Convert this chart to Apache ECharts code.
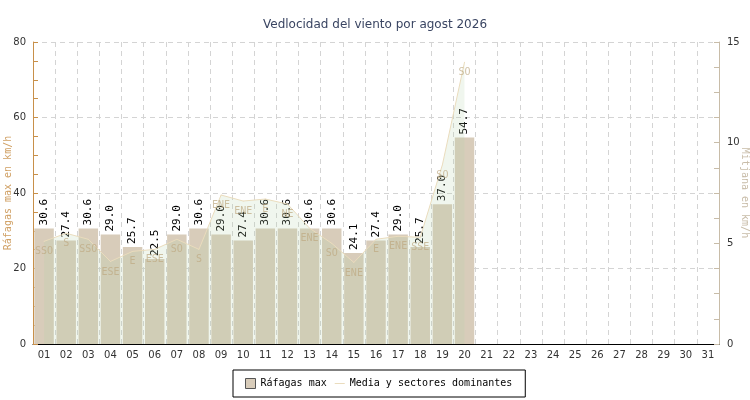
<!DOCTYPE html>
<html>
<head>
<meta charset="utf-8">
<script src="https://cdn.jsdelivr.net/npm/echarts@6/dist/echarts.min.js"></script>
<style>
  html, body { margin: 0; padding: 0; background: #fff; }
  #chart { width: 750px; height: 400px; }
</style>
</head>
<body>
<div id="chart"></div>
<script>
const days = ['01','02','03','04','05','06','07','08','09','10','11','12','13','14','15','16',
              '17','18','19','20','21','22','23','24','25','26','27','28','29','30','31'];
const gusts = [30.6, 27.4, 30.6, 29.0, 25.7, 22.5, 29.0, 30.6, 29.0, 27.4, 30.6, 30.6, 30.6, 30.6,
               24.1, 27.4, 29.0, 25.7, 37.0, 54.7];
const mean = [5.1, 5.5, 5.2, 4.1, 4.6, 4.7, 5.2, 4.7, 7.4, 7.1, 7.2, 6.95, 5.75, 5.0,
              4.05, 5.2, 5.35, 5.3, 8.9, 14.0];
const sectors = ['SSO','S','SSO','ESE','E','ESE','SO','S','ENE','ENE','E','NE','ENE','SO',
                 'ENE','E','ENE','SSE','SO','SO'];

const mono = 'DejaVu Sans Mono';
const chart = echarts.init(document.getElementById('chart'));

const option = {
    animation: false,
    title: {
        text: 'Vedlocidad del viento por agost 2026',
        left: 'center',
        top: 14,
        textStyle: {color: '#3a4562', fontSize: 12, fontWeight: 'normal', fontFamily: 'DejaVu Sans'}
    },
    legend: {
        bottom: 3,
        left: 233,
        borderColor: '#000',
        borderWidth: 1,
        padding: [8, 13, 8, 12],
        itemGap: 8,
        itemWidth: 10,
        itemHeight: 10,
        textStyle: {fontFamily: mono, fontSize: 10, color: '#000'},
        data: [
            {name: 'Ráfagas max', icon: 'rect', itemStyle: {color: '#d8ccba', borderColor: '#555', borderWidth: 1}},
            {name: 'Media y sectores dominantes', icon: 'path://M0,5 L10,5 L10,6 L0,6 Z',
             itemStyle: {color: '#eadcbd'}}
        ]
    },
    grid: {left: 33, right: 31, top: 42, bottom: 56, outerBoundsMode: 'none', containLabel: false},
    xAxis: {
        type: 'category',
        data: days,
        axisLine: {lineStyle: {color: '#000'}},
        axisTick: {inside: true, length: 5, lineStyle: {color: '#000'}},
        axisLabel: {color: '#333', fontSize: 10, fontFamily: 'DejaVu Sans', margin: 6},
        splitLine: {show: true, lineStyle: {color: '#d4d4d4', type: [5, 4]}}
    },
    yAxis: [
        {
            type: 'value',
            min: 0, max: 80, interval: 20,
            name: 'Ráfagas max en km/h',
            nameLocation: 'middle',
            nameGap: 20,
            nameMoveOverlap: false,
            nameTextStyle: {color: '#d0a064', fontFamily: mono, fontSize: 10},
            axisLine: {show: true, lineStyle: {color: '#c8904a'}},
            axisTick: {show: true, inside: true, length: 5, lineStyle: {color: '#c8904a'}},
            minorTick: {show: true, splitNumber: 4, length: 5, lineStyle: {color: '#c8904a'}},
            axisLabel: {color: '#333', fontSize: 10, fontFamily: 'DejaVu Sans', margin: 7},
            splitLine: {show: true, lineStyle: {color: '#d4d4d4', type: [5, 4]}}
        },
        {
            type: 'value',
            min: 0, max: 15, interval: 5,
            name: 'Mitjana en km/h',
            nameLocation: 'middle',
            nameGap: 21,
            nameRotate: -90,
            nameMoveOverlap: false,
            nameTextStyle: {color: '#c8bca8', fontFamily: mono, fontSize: 10},
            axisLine: {show: true, lineStyle: {color: '#c8bca8'}},
            axisTick: {show: true, inside: true, length: 5, lineStyle: {color: '#c8bca8'}},
            minorTick: {show: true, splitNumber: 4, length: 5, lineStyle: {color: '#c8bca8'}},
            axisLabel: {color: '#333', fontSize: 10, fontFamily: 'DejaVu Sans', margin: 8},
            splitLine: {show: false}
        }
    ],
    series: [
        {
            name: 'Ráfagas max',
            type: 'bar',
            yAxisIndex: 0,
            data: gusts,
            barCategoryGap: '12%',
            itemStyle: {color: '#d8ccba'},
            label: {
                show: true,
                position: 'top',
                rotate: 90,
                align: 'left',
                verticalAlign: 'middle',
                distance: 3,
                color: '#000',
                fontFamily: mono,
                fontSize: 11,
                formatter: p => p.value.toFixed(1)
            }
        },
        {
            name: 'Media y sectores dominantes',
            type: 'line',
            yAxisIndex: 1,
            data: mean,
            symbol: 'circle',
            symbolSize: 1,
            showSymbol: true,
            z: 3,
            lineStyle: {color: '#eadcbd', width: 1},
            itemStyle: {color: '#eadcbd'},
            areaStyle: {color: 'rgba(180, 210, 170, 0.28)'},
            label: {
                show: true,
                position: 'bottom',
                distance: 5,
                color: 'rgba(190, 168, 128, 0.7)',
                fontFamily: mono,
                fontSize: 10,
                formatter: p => sectors[p.dataIndex]
            }
        }
    ]
};

chart.setOption(option);
</script>
</body>
</html>
